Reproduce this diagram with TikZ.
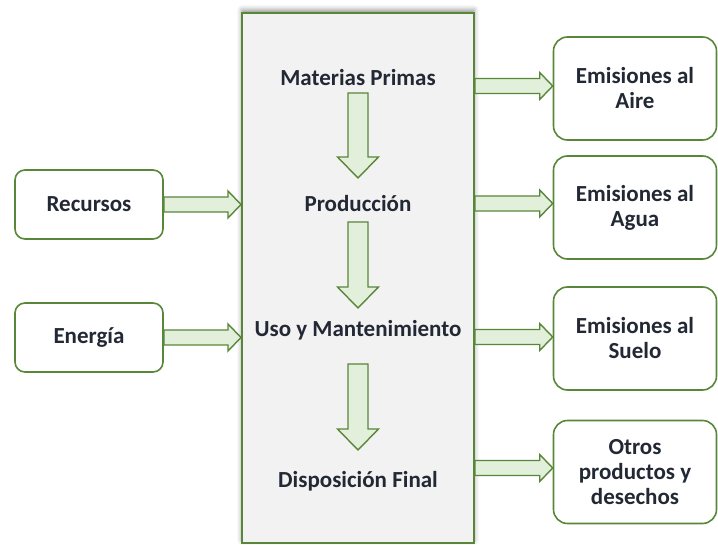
\documentclass[tikz,border=0pt]{standalone}
\usepackage{fontspec}
\setmainfont{Carlito}
\usetikzlibrary{calc,shadows.blur}
\definecolor{edge}{RGB}{88,135,58}
\definecolor{arrowfill}{RGB}{226,239,218}
\definecolor{mainfill}{RGB}{242,242,242}
\definecolor{txt}{RGB}{34,40,52}
\tikzset{
  lbl/.style={font=\bfseries\fontsize{23}{25}\selectfont, text=txt, align=center, inner sep=0pt},
  sidebox/.style={draw=edge, line width=1.6pt, fill=white, rounded corners=10pt,
    minimum width=148pt, minimum height=69pt, lbl},
  outbox/.style={draw=edge, line width=1.6pt, fill=white, rounded corners=14pt,
    minimum width=163pt, minimum height=103pt, lbl},
  mainbox/.style={draw=edge, line width=2pt, fill=mainfill, minimum width=232pt, minimum height=530pt,
    blur shadow={shadow xshift=0pt, shadow yshift=3pt, shadow blur radius=5pt, shadow opacity=45}},
  blockarrow/.style={draw=edge, line width=1.4pt, fill=arrowfill, line join=miter},
}
\newcommand\varrow[2]{\draw[blockarrow] let \p1=(#1),\p2=(#2) in
  (\x1-10pt,\y1) -- (\x1+10pt,\y1) -- (\x1+10pt,\y2+21pt) -- (\x1+20.5pt,\y2+21pt)
  -- (\x1,\y2) -- (\x1-20.5pt,\y2+21pt) -- (\x1-10pt,\y2+21pt) -- cycle;}
\newcommand\harrow[2]{\draw[blockarrow] let \p1=(#1),\p2=(#2) in
  (\x1,\y1+7.5pt) -- (\x2-13pt,\y1+7.5pt) -- (\x2-13pt,\y1+13.5pt) -- (\x2,\y1)
  -- (\x2-13pt,\y1-13.5pt) -- (\x2-13pt,\y1-7.5pt) -- (\x1,\y1-7.5pt) -- cycle;}
\begin{document}
\begin{tikzpicture}[x=1pt,y=-1pt]
\useasboundingbox (0,0) rectangle (718,545);
\node[mainbox] (main) at (358,278) {};
\node[lbl] (mp) at (358,78) {Materias Primas};
\node[lbl] (prod) at (358,204) {Producción};
\node[lbl] (uso) at (358,330) {Uso y Mantenimiento};
\node[lbl] (disp) at (358,481) {Disposición Final};
\varrow{$(mp.center)+(0,15)$}{$(prod.center)+(0,-26)$}
\varrow{$(prod.center)+(0,18)$}{$(uso.center)+(0,-22)$}
\varrow{$(uso.center)+(0,34)$}{$(disp.center)+(0,-31)$}
\node[sidebox] (rec) at (89,204.5) {Recursos};
\node[sidebox] (ene) at (89,337.5) {Energía};
\harrow{rec.east}{main.west |- rec.east}
\harrow{ene.east}{main.west |- ene.east}
\node[outbox] (aire) at (635,88.5) {Emisiones al\\Aire};
\node[outbox] (agua) at (635,207.5) {Emisiones al\\Agua};
\node[outbox] (suelo) at (635,338.5) {Emisiones al\\Suelo};
\node[outbox] (otros) at (635,472) {Otros\\productos y\\desechos};
\harrow{$(main.east |- aire.west)+(0,-2.5)$}{$(aire.west)+(0,-2.5)$}
\harrow{$(main.east |- agua.west)+(0,-4)$}{$(agua.west)+(0,-4)$}
\harrow{$(main.east |- suelo.west)+(0,-1.5)$}{$(suelo.west)+(0,-1.5)$}
\harrow{$(main.east |- otros.west)+(0,-4)$}{$(otros.west)+(0,-4)$}
\end{tikzpicture}
\end{document}
